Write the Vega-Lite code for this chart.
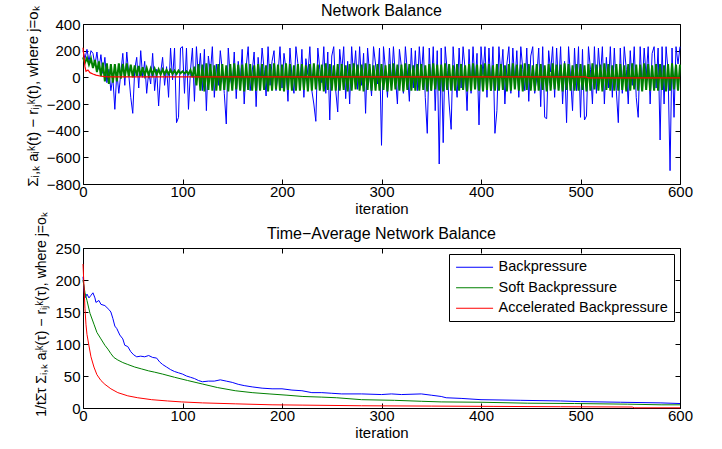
{
"$schema": "https://vega.github.io/schema/vega-lite/v6.json",
"padding": {"left": 24, "top": 2, "right": 5, "bottom": 5},
"bounds": "flush",
"spacing": 64,
"resolve": {"legend": {"color": "independent"}},
"config": {
"font": "Liberation Sans",
"view": {"stroke": "#000", "strokeWidth": 1},
"axis": {"grid": false, "domain": false, "tickSize": -5, "tickColor": "#000", "labelColor": "#000", "titleColor": "#000", "labelFontSize": 15, "titleFontSize": 15, "titleFontWeight": "normal", "labelPadding": 8, "labelFlush": false, "titlePadding": 6},
"axisX": {"titlePadding": 2, "labelPadding": 5.5},
"title": {"fontSize": 16, "fontWeight": "normal", "color": "#000"},
"legend": {"orient": "top-right", "offset": 6, "strokeColor": "#000", "fillColor": "#fff", "padding": 6, "labelFontSize": 14.5, "labelColor": "#000", "symbolType": "M-1,0H5", "symbolStrokeWidth": 1, "symbolSize": 152, "labelOffset": 29, "rowPadding": 5.5, "labelLimit": 400, "cornerRadius": 0}
},
"datasets": {
"top": [
{"x":0,"b":200,"g":150},{"x":2,"b":140,"g":110},{"x":4,"b":210,"g":145},{"x":6,"b":120,"g":95},{"x":8,"b":200,"g":140},{"x":10,"b":180,"g":70},{"x":12,"b":90,"g":130},{"x":14,"b":190,"g":40},{"x":16,"b":60,"g":120},{"x":18,"b":170,"g":10},
{"x":20,"b":30,"g":110},{"x":22,"b":150,"g":-30},{"x":24,"b":-40,"g":105},{"x":26,"b":60,"g":-50},{"x":28,"b":-100,"g":100},{"x":30,"b":0,"g":-40},{"x":32,"b":-240,"g":100},{"x":34,"b":40,"g":-30},{"x":36,"b":-120,"g":105},{"x":38,"b":30,"g":-10},
{"x":40,"b":180,"g":100},{"x":42,"b":-60,"g":0},{"x":44,"b":190,"g":105},{"x":46,"b":20,"g":5},{"x":48,"b":-150,"g":95},{"x":50,"b":-270,"g":0},{"x":52,"b":60,"g":90},{"x":54,"b":150,"g":10},{"x":56,"b":-80,"g":85},{"x":58,"b":200,"g":10},
{"x":60,"b":0,"g":75},{"x":62,"b":120,"g":15},{"x":64,"b":-120,"g":70},{"x":66,"b":40,"g":15},{"x":68,"b":-50,"g":65},{"x":70,"b":180,"g":20},{"x":72,"b":-100,"g":65},{"x":74,"b":60,"g":20},{"x":76,"b":-215,"g":60},{"x":78,"b":30,"g":20},
{"x":80,"b":150,"g":60},{"x":82,"b":-60,"g":25},{"x":84,"b":80,"g":55},{"x":86,"b":-150,"g":25},{"x":88,"b":220,"g":55},{"x":90,"b":-20,"g":25},{"x":92,"b":220,"g":50},{"x":94,"b":-340,"g":25},{"x":96,"b":-300,"g":50},{"x":98,"b":220,"g":30},
{"x":100,"b":230,"g":45},{"x":102,"b":-120,"g":30},{"x":104,"b":220,"g":45},{"x":106,"b":-240,"g":25},{"x":108,"b":50,"g":55},{"x":110,"b":220,"g":0},{"x":112,"b":-180,"g":80},{"x":114,"b":230,"g":-60},{"x":116,"b":0,"g":100},{"x":118,"b":180,"g":-100},
{"x":120,"b":-100,"g":95},{"x":122,"b":210,"g":-105},{"x":124,"b":-250,"g":105},{"x":126,"b":160,"g":-95},{"x":128,"b":30,"g":100},{"x":130,"b":230,"g":-100},{"x":132,"b":-150,"g":90},{"x":134,"b":100,"g":-100},{"x":136,"b":-60,"g":100},{"x":138,"b":200,"g":-100},
{"x":140,"b":50,"g":100},{"x":142,"b":-120,"g":-95},{"x":144,"b":-350,"g":90},{"x":146,"b":220,"g":-105},{"x":148,"b":0,"g":100},{"x":150,"b":-80,"g":-100},{"x":152,"b":190,"g":105},{"x":154,"b":-160,"g":-90},{"x":156,"b":120,"g":95},{"x":158,"b":-40,"g":-100},
{"x":160,"b":210,"g":95},{"x":162,"b":-200,"g":-105},{"x":164,"b":80,"g":105},{"x":166,"b":230,"g":-95},{"x":168,"b":-100,"g":100},{"x":170,"b":40,"g":-100},{"x":172,"b":190,"g":90},{"x":174,"b":-220,"g":-100},{"x":176,"b":150,"g":100},{"x":178,"b":-30,"g":-100},
{"x":180,"b":220,"g":100},{"x":182,"b":60,"g":-95},{"x":184,"b":-140,"g":90},{"x":186,"b":230,"g":-105},{"x":188,"b":-60,"g":100},{"x":190,"b":120,"g":-100},{"x":192,"b":200,"g":105},{"x":194,"b":-100,"g":-90},{"x":196,"b":20,"g":95},{"x":198,"b":230,"g":-100},
{"x":200,"b":-80,"g":95},{"x":202,"b":180,"g":-105},{"x":204,"b":60,"g":105},{"x":206,"b":-180,"g":-95},{"x":208,"b":220,"g":100},{"x":210,"b":0,"g":-100},{"x":212,"b":-120,"g":90},{"x":214,"b":230,"g":-100},{"x":216,"b":100,"g":100},{"x":218,"b":-60,"g":-100},
{"x":220,"b":210,"g":100},{"x":222,"b":-150,"g":-95},{"x":224,"b":140,"g":90},{"x":226,"b":20,"g":-105},{"x":228,"b":230,"g":100},{"x":230,"b":-100,"g":-100},{"x":232,"b":-200,"g":105},{"x":234,"b":-330,"g":-90},{"x":236,"b":220,"g":95},{"x":238,"b":60,"g":-100},
{"x":240,"b":-40,"g":95},{"x":242,"b":230,"g":-105},{"x":244,"b":-120,"g":105},{"x":246,"b":190,"g":-95},{"x":248,"b":-320,"g":100},{"x":250,"b":160,"g":-100},{"x":252,"b":230,"g":90},{"x":254,"b":-100,"g":-100},{"x":256,"b":-260,"g":100},{"x":258,"b":210,"g":-100},
{"x":260,"b":40,"g":100},{"x":262,"b":230,"g":-95},{"x":264,"b":-160,"g":90},{"x":266,"b":120,"g":-105},{"x":268,"b":-200,"g":100},{"x":270,"b":230,"g":-100},{"x":272,"b":0,"g":105},{"x":274,"b":200,"g":-90},{"x":276,"b":-90,"g":95},{"x":278,"b":230,"g":-100},
{"x":280,"b":-60,"g":95},{"x":282,"b":180,"g":-105},{"x":284,"b":-270,"g":105},{"x":286,"b":220,"g":-95},{"x":288,"b":30,"g":100},{"x":290,"b":-140,"g":-100},{"x":292,"b":230,"g":90},{"x":294,"b":100,"g":-100},{"x":296,"b":-50,"g":100},{"x":298,"b":220,"g":-100},
{"x":300,"b":-510,"g":100},{"x":302,"b":230,"g":-95},{"x":304,"b":60,"g":90},{"x":306,"b":-150,"g":-105},{"x":308,"b":220,"g":100},{"x":310,"b":-60,"g":-100},{"x":312,"b":230,"g":105},{"x":314,"b":0,"g":-90},{"x":316,"b":-200,"g":95},{"x":318,"b":210,"g":-100},
{"x":320,"b":80,"g":95},{"x":322,"b":-120,"g":-105},{"x":324,"b":230,"g":105},{"x":326,"b":40,"g":-95},{"x":328,"b":-180,"g":100},{"x":330,"b":220,"g":-100},{"x":332,"b":-80,"g":90},{"x":334,"b":200,"g":-100},{"x":336,"b":-100,"g":100},{"x":338,"b":230,"g":-100},
{"x":340,"b":0,"g":100},{"x":342,"b":230,"g":-95},{"x":344,"b":-150,"g":90},{"x":346,"b":-420,"g":-105},{"x":348,"b":220,"g":100},{"x":350,"b":-100,"g":-100},{"x":352,"b":230,"g":105},{"x":354,"b":-250,"g":-90},{"x":356,"b":200,"g":95},{"x":358,"b":-650,"g":-100},
{"x":360,"b":220,"g":95},{"x":362,"b":-490,"g":-105},{"x":364,"b":230,"g":105},{"x":366,"b":50,"g":-95},{"x":368,"b":-200,"g":100},{"x":370,"b":-390,"g":-100},{"x":372,"b":230,"g":90},{"x":374,"b":0,"g":-100},{"x":376,"b":-150,"g":100},{"x":378,"b":220,"g":-100},
{"x":380,"b":-80,"g":100},{"x":382,"b":230,"g":-95},{"x":384,"b":60,"g":90},{"x":386,"b":-250,"g":-105},{"x":388,"b":210,"g":100},{"x":390,"b":-120,"g":-100},{"x":392,"b":230,"g":105},{"x":394,"b":-60,"g":-90},{"x":396,"b":180,"g":95},{"x":398,"b":-357,"g":-100},
{"x":400,"b":230,"g":95},{"x":402,"b":20,"g":-105},{"x":404,"b":230,"g":105},{"x":406,"b":-150,"g":-95},{"x":408,"b":220,"g":100},{"x":410,"b":-100,"g":-100},{"x":412,"b":230,"g":90},{"x":414,"b":-420,"g":-100},{"x":416,"b":-250,"g":100},{"x":418,"b":230,"g":-100},
{"x":420,"b":0,"g":100},{"x":422,"b":210,"g":-95},{"x":424,"b":-200,"g":90},{"x":426,"b":100,"g":-105},{"x":428,"b":230,"g":100},{"x":430,"b":-120,"g":-100},{"x":432,"b":220,"g":105},{"x":434,"b":-60,"g":-90},{"x":436,"b":200,"g":95},{"x":438,"b":-150,"g":-100},
{"x":440,"b":230,"g":95},{"x":442,"b":60,"g":-105},{"x":444,"b":-100,"g":105},{"x":446,"b":220,"g":-95},{"x":448,"b":-180,"g":100},{"x":450,"b":160,"g":-100},{"x":452,"b":230,"g":90},{"x":454,"b":-120,"g":-100},{"x":456,"b":0,"g":100},{"x":458,"b":220,"g":-100},
{"x":460,"b":-220,"g":100},{"x":462,"b":230,"g":-95},{"x":464,"b":-300,"g":90},{"x":466,"b":-310,"g":-105},{"x":468,"b":200,"g":100},{"x":470,"b":40,"g":-100},{"x":472,"b":230,"g":105},{"x":474,"b":-150,"g":-90},{"x":476,"b":220,"g":95},{"x":478,"b":-80,"g":-100},
{"x":480,"b":230,"g":95},{"x":482,"b":-200,"g":-105},{"x":484,"b":120,"g":105},{"x":486,"b":-340,"g":-95},{"x":488,"b":230,"g":100},{"x":490,"b":0,"g":-100},{"x":492,"b":-250,"g":90},{"x":494,"b":220,"g":-100},{"x":496,"b":-100,"g":100},{"x":498,"b":230,"g":-100},
{"x":500,"b":-300,"g":100},{"x":502,"b":210,"g":-95},{"x":504,"b":-320,"g":90},{"x":506,"b":-290,"g":-105},{"x":508,"b":230,"g":100},{"x":510,"b":60,"g":-100},{"x":512,"b":-200,"g":105},{"x":514,"b":230,"g":-90},{"x":516,"b":-120,"g":95},{"x":518,"b":220,"g":-100},
{"x":520,"b":0,"g":95},{"x":522,"b":230,"g":-105},{"x":524,"b":-200,"g":105},{"x":526,"b":150,"g":-95},{"x":528,"b":-80,"g":100},{"x":530,"b":230,"g":-100},{"x":532,"b":-150,"g":90},{"x":534,"b":220,"g":-100},{"x":536,"b":-100,"g":100},{"x":538,"b":-340,"g":-100},
{"x":540,"b":220,"g":100},{"x":542,"b":-120,"g":-95},{"x":544,"b":230,"g":90},{"x":546,"b":60,"g":-105},{"x":548,"b":-200,"g":100},{"x":550,"b":200,"g":-100},{"x":552,"b":-60,"g":105},{"x":554,"b":230,"g":-90},{"x":556,"b":-150,"g":95},{"x":558,"b":-300,"g":-100},
{"x":560,"b":230,"g":95},{"x":562,"b":-100,"g":-105},{"x":564,"b":220,"g":105},{"x":566,"b":0,"g":-95},{"x":568,"b":230,"g":100},{"x":570,"b":-200,"g":-100},{"x":572,"b":180,"g":90},{"x":574,"b":230,"g":-100},{"x":576,"b":-80,"g":100},{"x":578,"b":220,"g":-100},
{"x":580,"b":-470,"g":100},{"x":582,"b":230,"g":-95},{"x":584,"b":-200,"g":90},{"x":586,"b":230,"g":-105},{"x":588,"b":50,"g":100},{"x":590,"b":-700,"g":-100},{"x":592,"b":220,"g":105},{"x":594,"b":-300,"g":-90},{"x":596,"b":230,"g":95},{"x":598,"b":100,"g":-100},
{"x":600,"b":230,"g":95}
],
"topr": [
{"x":0,"y":222},{"x":2,"y":80},{"x":3,"y":45},{"x":5,"y":55},{"x":7,"y":35},{"x":10,"y":25},{"x":13,"y":17},{"x":17,"y":10},{"x":22,"y":6},{"x":30,"y":4},{"x":40,"y":3},{"x":505,"y":3},{"x":508,"y":-4},{"x":600,"y":-4}
],
"bot": [
{"s":"Backpressure","x":0,"y":205},{"s":"Backpressure","x":1,"y":185},{"s":"Backpressure","x":2,"y":172},{"s":"Backpressure","x":4,"y":178},{"s":"Backpressure","x":6,"y":172},{"s":"Backpressure","x":8,"y":176},{"s":"Backpressure","x":10,"y":180},{"s":"Backpressure","x":12,"y":172},{"s":"Backpressure","x":13,"y":165},{"s":"Backpressure","x":16,"y":168},{"s":"Backpressure","x":18,"y":162},{"s":"Backpressure","x":22,"y":160},{"s":"Backpressure","x":26,"y":154},{"s":"Backpressure","x":28,"y":150},{"s":"Backpressure","x":30,"y":140},{"s":"Backpressure","x":32,"y":128},{"s":"Backpressure","x":34,"y":124},{"s":"Backpressure","x":37,"y":114},{"s":"Backpressure","x":40,"y":108},{"s":"Backpressure","x":42,"y":98},{"s":"Backpressure","x":45,"y":96},{"s":"Backpressure","x":48,"y":88},{"s":"Backpressure","x":51,"y":83},{"s":"Backpressure","x":54,"y":80},{"s":"Backpressure","x":58,"y":81},{"s":"Backpressure","x":62,"y":80},{"s":"Backpressure","x":66,"y":82},{"s":"Backpressure","x":70,"y":79},{"s":"Backpressure","x":74,"y":78},{"s":"Backpressure","x":77,"y":72},{"s":"Backpressure","x":80,"y":68},{"s":"Backpressure","x":84,"y":64},{"s":"Backpressure","x":88,"y":60},{"s":"Backpressure","x":92,"y":57},{"s":"Backpressure","x":96,"y":55},{"s":"Backpressure","x":100,"y":53},{"s":"Backpressure","x":104,"y":50},{"s":"Backpressure","x":108,"y":48},{"s":"Backpressure","x":112,"y":46},{"s":"Backpressure","x":116,"y":43},{"s":"Backpressure","x":120,"y":41},{"s":"Backpressure","x":126,"y":42},{"s":"Backpressure","x":132,"y":42},{"s":"Backpressure","x":138,"y":44},{"s":"Backpressure","x":144,"y":42},{"s":"Backpressure","x":150,"y":40},{"s":"Backpressure","x":156,"y":37},{"s":"Backpressure","x":162,"y":35},{"s":"Backpressure","x":170,"y":33},{"s":"Backpressure","x":180,"y":31},{"s":"Backpressure","x":190,"y":30},{"s":"Backpressure","x":200,"y":30},{"s":"Backpressure","x":210,"y":28},{"s":"Backpressure","x":220,"y":27},{"s":"Backpressure","x":230,"y":24},{"s":"Backpressure","x":240,"y":24},{"s":"Backpressure","x":250,"y":23},{"s":"Backpressure","x":260,"y":22},{"s":"Backpressure","x":280,"y":22},{"s":"Backpressure","x":300,"y":21},{"s":"Backpressure","x":310,"y":22},{"s":"Backpressure","x":320,"y":21},{"s":"Backpressure","x":340,"y":22},{"s":"Backpressure","x":350,"y":20},{"s":"Backpressure","x":360,"y":18},{"s":"Backpressure","x":365,"y":16},{"s":"Backpressure","x":380,"y":15},{"s":"Backpressure","x":400,"y":13},{"s":"Backpressure","x":440,"y":12},{"s":"Backpressure","x":480,"y":11},{"s":"Backpressure","x":500,"y":10},{"s":"Backpressure","x":540,"y":9},{"s":"Backpressure","x":580,"y":8},{"s":"Backpressure","x":600,"y":7},
{"s":"Soft Backpressure","x":0,"y":200},{"s":"Soft Backpressure","x":2,"y":180},{"s":"Soft Backpressure","x":4,"y":168},{"s":"Soft Backpressure","x":7,"y":148},{"s":"Soft Backpressure","x":11,"y":131},{"s":"Soft Backpressure","x":14,"y":118},{"s":"Soft Backpressure","x":18,"y":108},{"s":"Soft Backpressure","x":22,"y":98},{"s":"Soft Backpressure","x":25,"y":92},{"s":"Soft Backpressure","x":28,"y":85},{"s":"Soft Backpressure","x":31,"y":79},{"s":"Soft Backpressure","x":35,"y":75},{"s":"Soft Backpressure","x":40,"y":71},{"s":"Soft Backpressure","x":45,"y":68},{"s":"Soft Backpressure","x":52,"y":64},{"s":"Soft Backpressure","x":59,"y":61},{"s":"Soft Backpressure","x":66,"y":58},{"s":"Soft Backpressure","x":72,"y":56},{"s":"Soft Backpressure","x":80,"y":53},{"s":"Soft Backpressure","x":92,"y":48},{"s":"Soft Backpressure","x":105,"y":43},{"s":"Soft Backpressure","x":120,"y":37.5},{"s":"Soft Backpressure","x":135,"y":32},{"s":"Soft Backpressure","x":153,"y":27},{"s":"Soft Backpressure","x":170,"y":24},{"s":"Soft Backpressure","x":187,"y":22},{"s":"Soft Backpressure","x":205,"y":20},{"s":"Soft Backpressure","x":221,"y":18},{"s":"Soft Backpressure","x":240,"y":17},{"s":"Soft Backpressure","x":255,"y":16},{"s":"Soft Backpressure","x":280,"y":13},{"s":"Soft Backpressure","x":313,"y":12},{"s":"Soft Backpressure","x":340,"y":10.5},{"s":"Soft Backpressure","x":360,"y":9.5},{"s":"Soft Backpressure","x":400,"y":9},{"s":"Soft Backpressure","x":447,"y":7.5},{"s":"Soft Backpressure","x":494,"y":7},{"s":"Soft Backpressure","x":547,"y":6},{"s":"Soft Backpressure","x":581,"y":5},{"s":"Soft Backpressure","x":600,"y":5},
{"s":"Accelerated Backpressure","x":0,"y":225},{"s":"Accelerated Backpressure","x":1,"y":190},{"s":"Accelerated Backpressure","x":2,"y":155},{"s":"Accelerated Backpressure","x":3,"y":130},{"s":"Accelerated Backpressure","x":4,"y":115},{"s":"Accelerated Backpressure","x":6,"y":97},{"s":"Accelerated Backpressure","x":8,"y":80},{"s":"Accelerated Backpressure","x":11,"y":64},{"s":"Accelerated Backpressure","x":14,"y":52},{"s":"Accelerated Backpressure","x":18,"y":43},{"s":"Accelerated Backpressure","x":22,"y":37},{"s":"Accelerated Backpressure","x":28,"y":30},{"s":"Accelerated Backpressure","x":35,"y":24},{"s":"Accelerated Backpressure","x":45,"y":19},{"s":"Accelerated Backpressure","x":55,"y":16},{"s":"Accelerated Backpressure","x":69,"y":13},{"s":"Accelerated Backpressure","x":85,"y":11},{"s":"Accelerated Backpressure","x":99,"y":9.5},{"s":"Accelerated Backpressure","x":120,"y":8},{"s":"Accelerated Backpressure","x":153,"y":6.5},{"s":"Accelerated Backpressure","x":190,"y":5},{"s":"Accelerated Backpressure","x":221,"y":4.5},{"s":"Accelerated Backpressure","x":280,"y":3.5},{"s":"Accelerated Backpressure","x":350,"y":3},{"s":"Accelerated Backpressure","x":413,"y":2.5},{"s":"Accelerated Backpressure","x":480,"y":2},{"s":"Accelerated Backpressure","x":552,"y":1.5},{"s":"Accelerated Backpressure","x":554,"y":0.3},{"s":"Accelerated Backpressure","x":600,"y":0.3}
]
},
"vconcat": [
{
"width": 597, "height": 160,
"title": {"text": "Network Balance", "offset": -13.5},
"layer": [
{"data": {"name": "top"}, "mark": {"type": "line", "color": "#0000ff", "strokeWidth": 1},
 "encoding": {
  "x": {"field": "x", "type": "quantitative", "scale": {"domain": [0, 600], "nice": false}, "axis": {"values": [0,100,200,300,400,500,600], "title": "iteration"}},
  "y": {"field": "b", "type": "quantitative", "scale": {"domain": [-800, 400], "nice": false}, "axis": {"values": [-800,-600,-400,-200,0,200,400], "title": "Σᵢ,ₖ aᵢᵏ(t) − rᵢⱼᵏ(t), where j=oₖ", "titleY": 72}}}},
{"data": {"name": "top"}, "mark": {"type": "line", "color": "#008000", "strokeWidth": 2},
 "encoding": {"x": {"field": "x", "type": "quantitative", "axis": null}, "y": {"field": "g", "type": "quantitative", "axis": null}}},
{"data": {"name": "topr"}, "mark": {"type": "line", "color": "#ff0000", "strokeWidth": 1.2},
 "encoding": {"x": {"field": "x", "type": "quantitative", "axis": null}, "y": {"field": "y", "type": "quantitative", "axis": null}}},
{"data": {"name": "topr"}, "mark": {"type": "line", "strokeOpacity": 0},
 "encoding": {"x": {"field": "x", "type": "quantitative", "axis": {"orient": "top", "labels": false, "title": null, "values": [0,100,200,300,400,500,600]}}, "y": {"field": "y", "type": "quantitative", "axis": {"orient": "right", "labels": false, "title": null, "values": [-800,-600,-400,-200,0,200,400]}}}}
],
"resolve": {"axis": {"x": "independent", "y": "independent"}}
},
{
"width": 597, "height": 160,
"title": {"text": "Time−Average Network Balance", "offset": -30},
"layer": [
{"data": {"name": "bot"}, "mark": {"type": "line", "strokeWidth": 1},
 "encoding": {
  "x": {"field": "x", "type": "quantitative", "scale": {"domain": [0, 600], "nice": false}, "axis": {"values": [0,100,200,300,400,500,600], "title": "iteration"}},
  "y": {"field": "y", "type": "quantitative", "scale": {"domain": [0, 250], "nice": false}, "axis": {"values": [0,50,100,150,200,250], "title": "1/tΣτ Σᵢ,ₖ aᵢᵏ(τ) − rᵢⱼᵏ(τ), where j=oₖ", "titleFontSize": 14, "titleY": 66}},
  "color": {"field": "s", "type": "nominal", "scale": {"domain": ["Backpressure", "Soft Backpressure", "Accelerated Backpressure"], "range": ["#0000ff", "#008000", "#ff0000"]}, "legend": {"title": null}}}},
{"data": {"name": "bot"}, "mark": {"type": "line", "strokeOpacity": 0},
 "encoding": {"x": {"field": "x", "type": "quantitative", "axis": {"orient": "top", "labels": false, "title": null, "values": [0,100,200,300,400,500,600]}}, "y": {"field": "y", "type": "quantitative", "axis": {"orient": "right", "labels": false, "title": null, "values": [0,50,100,150,200,250]}}, "detail": {"field": "s"}}}
],
"resolve": {"axis": {"x": "independent", "y": "independent"}}
}
]
}
